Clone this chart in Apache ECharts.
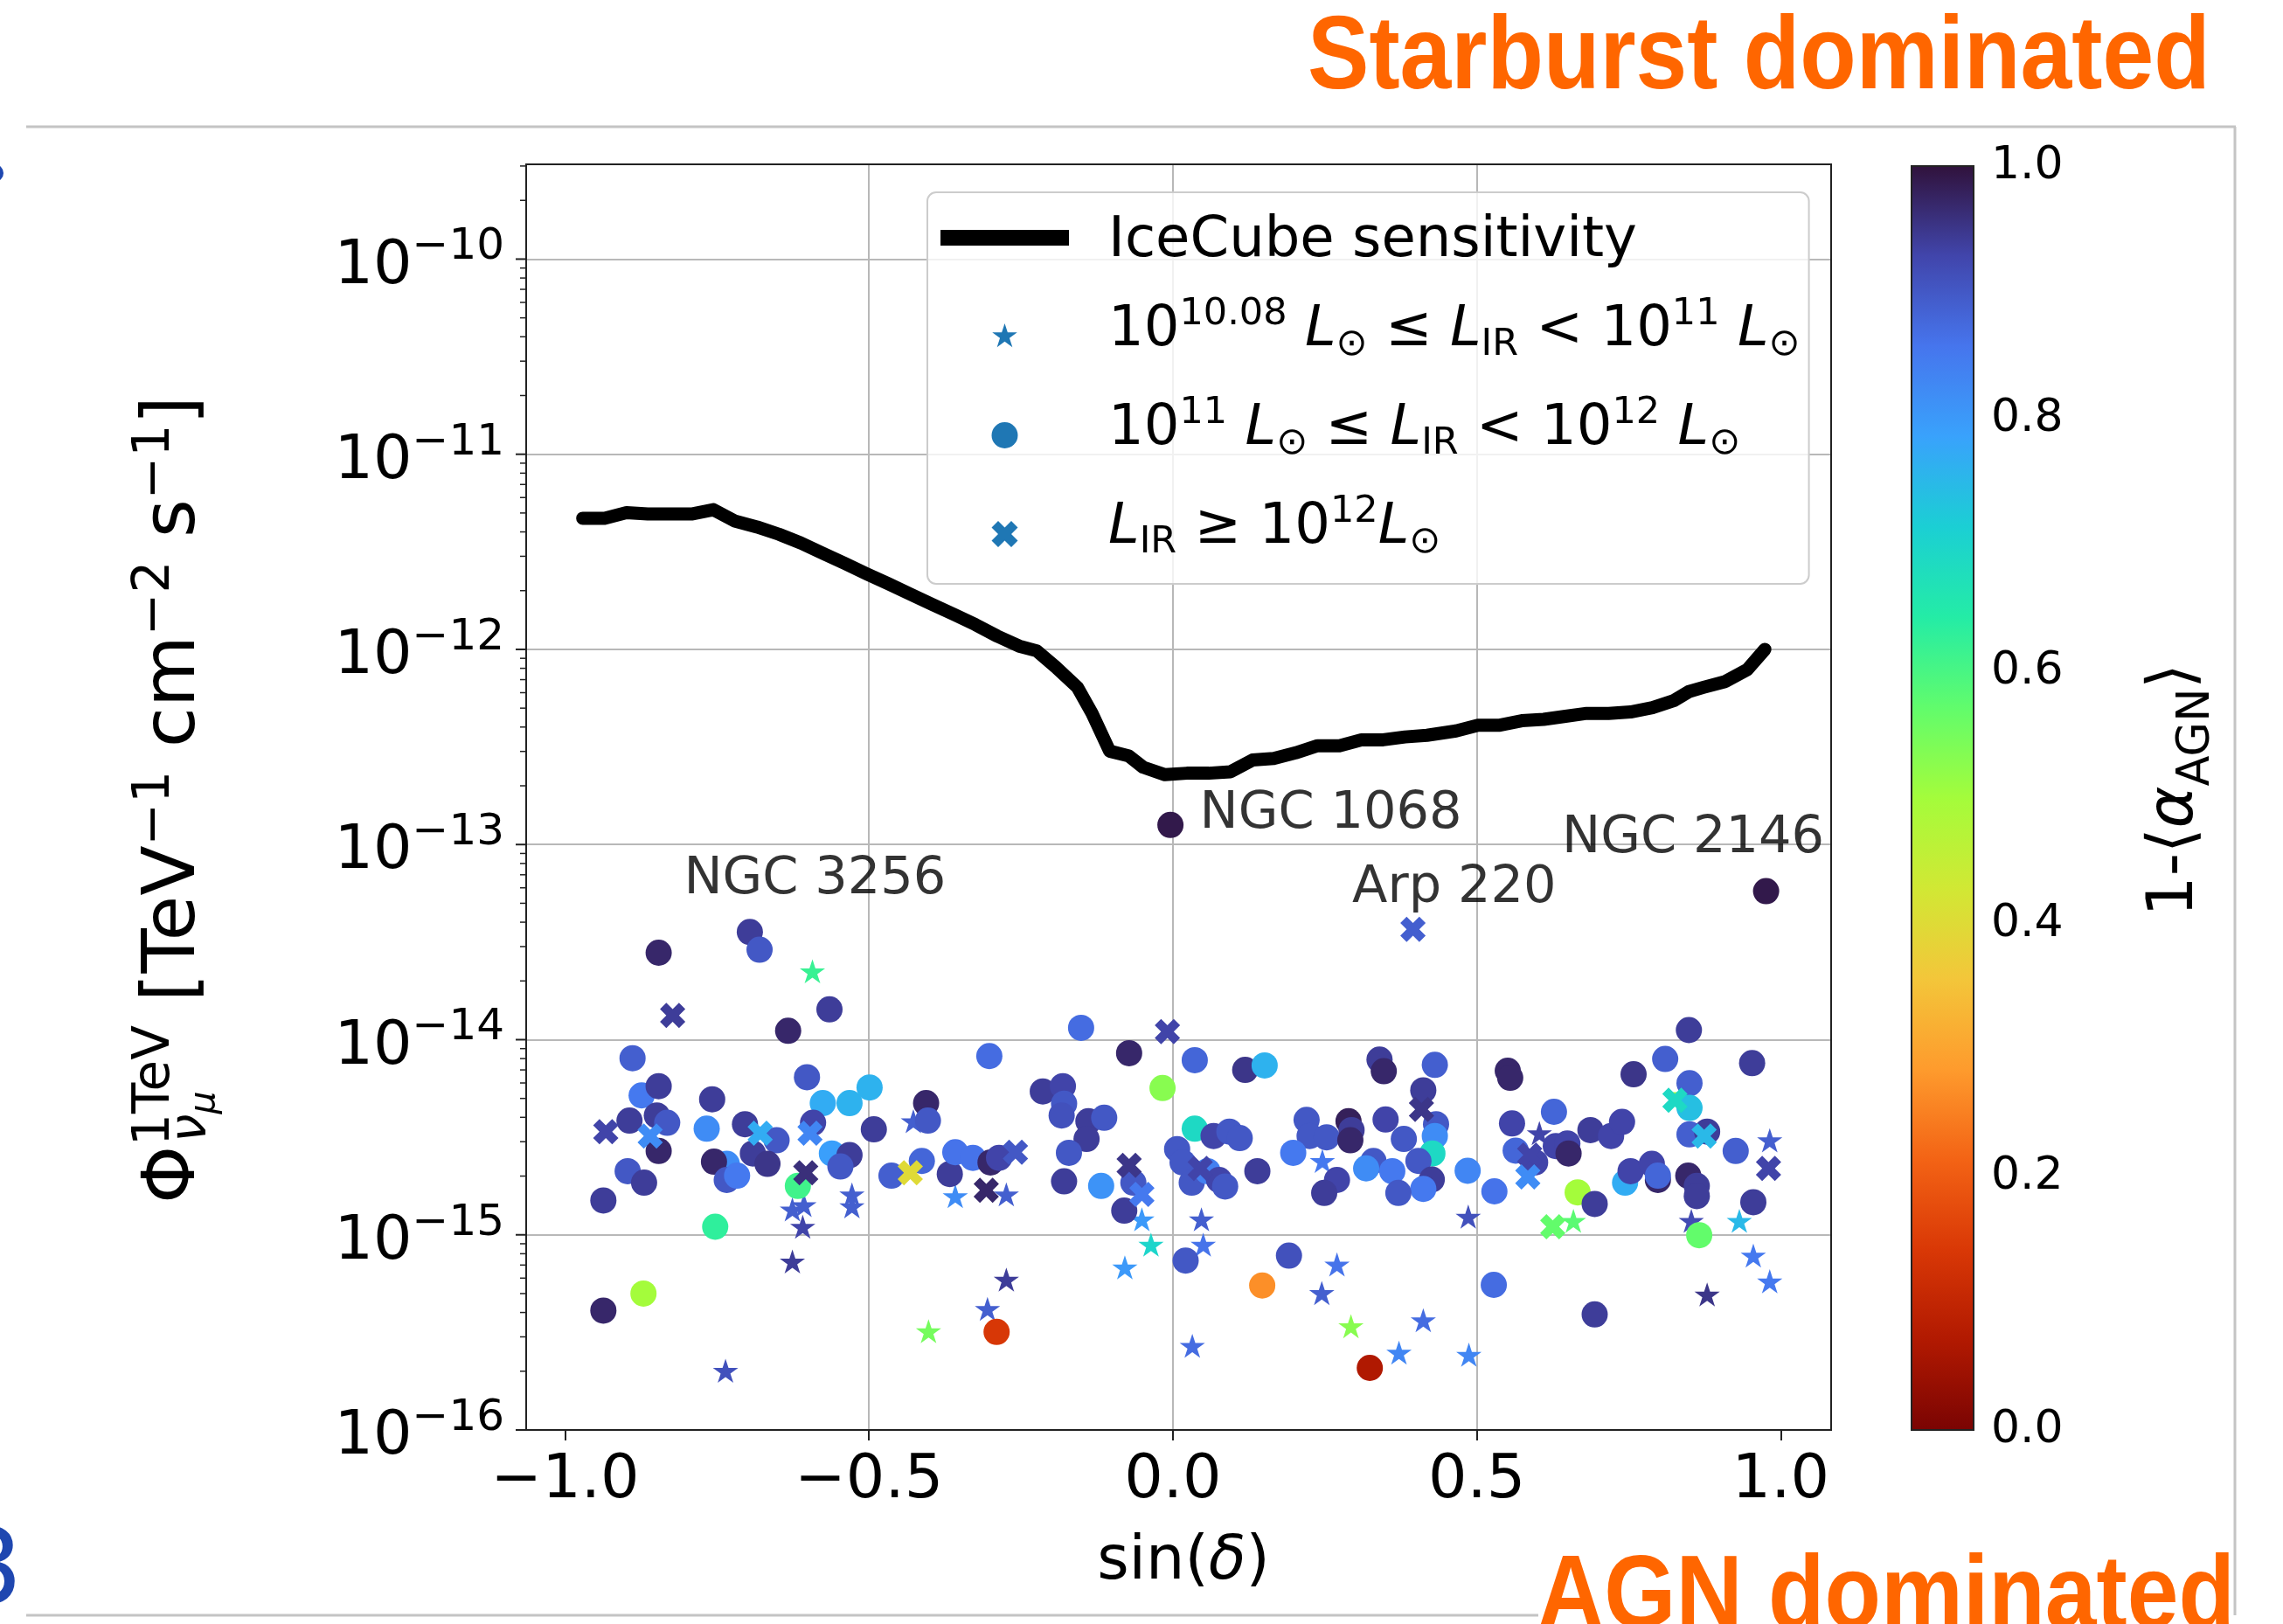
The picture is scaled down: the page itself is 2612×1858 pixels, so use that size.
<!DOCTYPE html>
<html><head><meta charset="utf-8">
<script src="https://cdn.jsdelivr.net/npm/echarts@6/dist/echarts.min.js"></script>
<style>html,body{margin:0;padding:0;background:#fff;}#c{width:2612px;height:1858px;}</style>
</head><body><div id="c"></div>
<script>
const FONT = "'DejaVu Sans', sans-serif";
const SLIDE_FONT = "'Liberation Sans', Arial, sans-serif";

// ---------- axis / tick definitions ----------
const X_MIN = -1.064, X_MAX = 1.083;
const Y_MIN = 1e-16, Y_MAX = 3.06e-10;
const xTickValues = [-1, -0.5, 0, 0.5, 1];
const xTickLabels = ['\u22121.0', '\u22120.5', '0.0', '0.5', '1.0'];
const yDecadeExponents = [-16, -15, -14, -13, -12, -11, -10];
const yMinorMultipliers = [2, 3, 4, 5, 6, 7, 8, 9];
const cbTickLabels = ['0.0', '0.2', '0.4', '0.6', '0.8', '1.0'];

// turbo colormap (value 0 -> dark red, value 1 -> dark purple, i.e. turbo reversed)
const cmapColors = ['#7a0403','#b11901','#d93806','#f36315','#fe9b2d','#f3c63a','#d1e834','#a4fc3b','#61fc6c','#24eca6','#1bcfd4','#39a2fc','#4675ed','#4145ab','#30123b'];

// ---------- IceCube sensitivity ----------
const lineX = [-0.971,-0.935,-0.899,-0.864,-0.828,-0.792,-0.756,-0.720,-0.684,-0.648,-0.612,-0.576,-0.540,-0.504,-0.468,-0.432,-0.396,-0.360,-0.325,-0.289,-0.253,-0.224,-0.193,-0.157,-0.133,-0.104,-0.073,-0.049,-0.013,0.023,0.059,0.095,0.131,0.166,0.202,0.238,0.274,0.310,0.346,0.382,0.418,0.466,0.502,0.538,0.574,0.610,0.646,0.681,0.717,0.753,0.789,0.825,0.849,0.873,0.909,0.945,0.974];
const lineFlux = [4.70e-12,4.70e-12,5.02e-12,4.94e-12,4.94e-12,4.94e-12,5.20e-12,4.54e-12,4.24e-12,3.89e-12,3.51e-12,3.11e-12,2.76e-12,2.44e-12,2.17e-12,1.92e-12,1.70e-12,1.51e-12,1.34e-12,1.17e-12,1.04e-12,9.83e-13,8.13e-13,6.39e-13,4.70e-13,3.01e-13,2.85e-13,2.49e-13,2.28e-13,2.32e-13,2.32e-13,2.36e-13,2.71e-13,2.76e-13,2.95e-13,3.21e-13,3.21e-13,3.44e-13,3.44e-13,3.56e-13,3.63e-13,3.82e-13,4.09e-13,4.09e-13,4.31e-13,4.38e-13,4.54e-13,4.70e-13,4.70e-13,4.78e-13,5.03e-13,5.48e-13,6.08e-13,6.39e-13,6.85e-13,7.87e-13,1.00e-12];

// ---------- 10^10.08 <= L_IR < 10^11 (stars) ----------
const starX = [-0.593,-0.736,-0.528,-0.528,-0.626,-0.607,-0.609,-0.626,-0.427,-0.358,-0.402,-0.051,-0.036,-0.079,-0.274,-0.274,-0.305,0.047,0.050,0.032,0.270,0.245,0.293,0.246,0.486,0.412,0.372,0.487,0.603,0.659,0.838,0.982,0.853,0.932,0.955,0.982,0.879];
const starFlux = [2.24e-14,2.01e-16,1.61e-15,1.40e-15,1.35e-15,1.42e-15,1.10e-15,7.30e-16,3.82e-15,1.58e-15,3.21e-16,1.20e-15,8.91e-16,6.81e-16,1.61e-15,5.89e-16,4.17e-16,1.20e-15,8.91e-16,2.70e-16,7.05e-16,5.03e-16,3.40e-16,2.39e-15,1.24e-15,3.65e-16,2.49e-16,2.43e-16,3.32e-15,1.18e-15,5.21e-15,3.05e-15,1.18e-15,1.18e-15,7.82e-16,5.78e-16,4.95e-16];
const starAGN = [0.62,0.91,0.89,0.89,0.89,0.89,0.93,0.94,0.89,0.82,0.55,0.80,0.70,0.80,0.89,0.94,0.89,0.89,0.86,0.87,0.86,0.89,0.53,0.85,0.91,0.87,0.83,0.83,0.93,0.58,0.50,0.89,0.92,0.75,0.85,0.85,0.95];

// ---------- 10^11 <= L_IR < 10^12 (circles) ----------
const circX = [-0.565,-0.633,-0.889,-0.874,-0.846,-0.894,-0.849,-0.832,-0.846,-0.897,-0.870,-0.937,-0.937,-0.871,-0.758,-0.767,-0.734,-0.755,-0.734,-0.717,-0.753,-0.704,-0.652,-0.691,-0.667,-0.602,-0.576,-0.532,-0.499,-0.592,-0.561,-0.532,-0.547,-0.617,-0.492,-0.406,-0.403,-0.463,-0.413,-0.367,-0.358,-0.329,-0.696,-0.680,-0.846,
 -0.151,-0.302,-0.072,0.036,0.119,0.151,-0.017,-0.214,-0.181,-0.179,-0.183,-0.139,-0.113,-0.142,-0.171,-0.179,-0.118,-0.065,-0.080,-0.300,-0.286,-0.290,0.036,0.007,0.016,0.031,0.057,0.067,0.093,0.110,0.076,0.086,0.139,0.021,0.191,0.147,0.324,0.220,0.225,0.253,0.198,0.289,0.294,0.292,0.270,0.249,0.330,0.318,0.340,0.347,0.350,-0.004,
 0.849,0.810,0.953,0.758,0.551,0.555,0.431,0.412,0.433,0.431,0.380,0.427,0.404,0.361,0.426,0.412,0.371,0.485,0.529,0.528,0.558,0.627,0.564,0.596,0.630,0.649,0.651,0.687,0.721,0.739,0.666,0.694,0.694,0.744,0.753,0.788,0.798,0.798,0.848,0.862,0.862,0.850,0.850,0.850,0.879,0.926,0.955,0.866,0.976];
const circFlux = [1.43e-14,1.11e-14,8.04e-15,5.18e-15,5.78e-15,3.85e-15,4.09e-15,3.75e-15,2.69e-15,2.12e-15,1.85e-15,1.50e-15,4.09e-16,5.00e-16,4.95e-15,3.50e-15,2.31e-15,2.37e-15,1.91e-15,2.01e-15,1.10e-15,3.69e-15,3.05e-15,2.61e-15,2.31e-15,6.42e-15,4.73e-15,4.73e-15,5.69e-15,3.75e-15,2.61e-15,2.56e-15,2.24e-15,1.78e-15,3.47e-15,4.73e-15,3.85e-15,2.01e-15,2.39e-15,2.05e-15,2.65e-15,2.48e-15,3.56e-14,2.89e-14,2.79e-14,
 1.15e-14,8.24e-15,8.53e-15,7.85e-15,7.00e-15,7.38e-15,5.65e-15,5.43e-15,5.78e-15,4.70e-15,4.09e-15,3.82e-15,3.98e-15,3.10e-15,2.63e-15,1.88e-15,1.78e-15,1.85e-15,1.33e-15,2.35e-15,2.48e-15,3.18e-16,3.50e-15,2.75e-15,2.35e-15,1.85e-15,2.12e-15,3.21e-15,3.38e-15,3.13e-15,1.91e-15,1.77e-15,2.12e-15,7.38e-16,7.82e-16,5.50e-16,2.08e-16,3.88e-15,3.21e-15,3.16e-15,2.63e-15,3.82e-15,3.44e-15,3.05e-15,1.91e-15,1.64e-15,2.39e-15,2.19e-15,7.90e-15,6.89e-15,3.90e-15,1.26e-13,
 1.12e-14,7.96e-15,7.58e-15,6.65e-15,6.93e-15,6.38e-15,7.43e-15,5.50e-15,3.69e-15,3.21e-15,3.10e-15,2.61e-15,2.39e-15,2.12e-15,1.92e-15,1.72e-15,1.64e-15,2.13e-15,1.67e-15,5.54e-16,3.72e-15,4.27e-15,2.70e-15,2.35e-15,2.85e-15,2.94e-15,2.61e-15,3.44e-15,3.21e-15,3.79e-15,1.65e-15,1.44e-15,3.91e-16,1.85e-15,2.12e-15,2.31e-15,1.91e-15,2.01e-15,2.01e-15,1.78e-15,1.58e-15,5.98e-15,4.47e-15,3.27e-15,3.38e-15,2.69e-15,1.47e-15,9.96e-16,5.77e-14];
const circAGN = [0.94,0.97,0.89,0.85,0.94,0.94,0.94,0.90,0.97,0.90,0.94,0.94,0.97,0.50,0.94,0.82,0.82,0.97,0.90,0.85,0.63,0.94,0.90,0.94,0.95,0.90,0.77,0.76,0.76,0.93,0.79,0.94,0.90,0.61,0.94,0.97,0.90,0.89,0.88,0.94,0.86,0.86,0.94,0.90,0.97,
 0.87,0.87,0.97,0.88,0.95,0.76,0.53,0.94,0.93,0.90,0.91,0.94,0.90,0.94,0.90,0.94,0.81,0.90,0.94,0.97,0.93,0.14,0.69,0.90,0.90,0.90,0.84,0.93,0.90,0.90,0.93,0.90,0.94,0.90,0.91,0.27,0.07,0.90,0.90,0.90,0.85,0.98,0.94,0.97,0.93,0.94,0.90,0.82,0.94,0.97,0.93,0.99,
 0.94,0.89,0.94,0.95,0.97,0.97,0.89,0.94,0.90,0.82,0.90,0.69,0.90,0.85,0.94,0.85,0.90,0.83,0.86,0.87,0.93,0.88,0.88,0.93,0.93,0.93,0.97,0.94,0.93,0.93,0.50,0.94,0.94,0.77,0.93,0.93,0.97,0.88,0.97,0.94,0.94,0.89,0.74,0.89,0.94,0.89,0.94,0.57,0.99];

// ---------- L_IR >= 10^12 (X markers) ----------
const xmX = [-0.823,-0.933,-0.860,-0.679,-0.597,-0.604,-0.432,-0.009,-0.072,-0.051,-0.307,-0.259,0.045,0.409,0.587,0.584,0.625,0.826,0.874,0.980,0.395];
const xmFlux = [1.33e-14,3.38e-15,3.21e-15,3.32e-15,3.32e-15,2.08e-15,2.08e-15,1.10e-14,2.27e-15,1.61e-15,1.69e-15,2.65e-15,2.19e-15,4.39e-15,2.56e-15,1.98e-15,1.10e-15,4.90e-15,3.21e-15,2.19e-15,3.68e-14];
const xmAGN = [0.94,0.93,0.82,0.77,0.83,0.96,0.40,0.93,0.95,0.85,0.97,0.90,0.93,0.95,0.93,0.82,0.57,0.69,0.75,0.93,0.89];

// ---------- annotated sources ----------
const annoNames = ['NGC 3256', 'NGC 1068', 'Arp 220', 'NGC 2146'];
const annoX = [-0.696, -0.004, 0.395, 0.976];
const annoFlux = [3.56e-14, 1.26e-13, 3.68e-14, 5.77e-14];

// ---------- build ----------
const annoOffsets = [[-75, -59], [34, -12], [-69, -46], [-233, -59]];
const yTickData = [];
yDecadeExponents.forEach(function (e) {
  yTickData.push([X_MIN, Math.pow(10, e), 1]);
  yMinorMultipliers.forEach(function (m) {
    const v = m * Math.pow(10, e);
    if (v < Y_MAX) yTickData.push([X_MIN, v, 0]);
  });
});
const cbStops = cmapColors.map(function (c, i) { return { offset: i / (cmapColors.length - 1), color: c }; });

const STAR = 'path://M0,-1 L0.2245,-0.309 L0.951,-0.309 L0.363,0.118 L0.588,0.809 L0,0.382 L-0.588,0.809 L-0.363,0.118 L-0.951,-0.309 L-0.2245,-0.309 Z';
const XMARK = 'path://M1.414,-2.828 L0,-1.414 L-1.414,-2.828 L-2.828,-1.414 L-1.414,0 L-2.828,1.414 L-1.414,2.828 L0,1.414 L1.414,2.828 L2.828,1.414 L1.414,0 L2.828,-1.414 Z';
const LEG_LINE = 'path://M0,6 L147,6 L147,24 L0,24 Z M0,0 M187,30';
const LEG_STAR = 'path://M73.5,0 L76.87,10.36 L87.77,10.36 L78.95,16.77 L82.32,27.14 L73.5,20.73 L64.68,27.14 L68.05,16.77 L59.23,10.36 L70.13,10.36 Z M0,0 M187,30';
const LEG_CIRC = 'path://M58.5,15 A15,15 0 1,1 88.5,15 A15,15 0 1,1 58.5,15 Z M0,0 M187,30';
const LEG_X = 'path://M81,0 L73.5,7.5 L66,0 L58.5,7.5 L66,15 L58.5,22.5 L66,30 L73.5,22.5 L81,30 L88.5,22.5 L81,15 L88.5,7.5 Z M0,0 M187,30';

const legendLabels = {
  'IceCube sensitivity': '{h|\u200b}{n1|IceCube sensitivity}',
  'lowLIR': '{h|\u200b}{n|10}{sup|10.08}{n| }{it|L}{sub|\u2299}{n| \u2264 }{it|L}{sub|IR}{n| < 10}{sup|11}{n| }{it|L}{sub|\u2299}',
  'midLIR': '{h|\u200b}{n|10}{sup|11}{n| }{it|L}{sub|\u2299}{n| \u2264 }{it|L}{sub|IR}{n| < 10}{sup|12}{n| }{it|L}{sub|\u2299}',
  'highLIR': '{h|\u200b}{it|L}{sub|IR}{n| \u2265 10}{sup|12}{it|L}{sub|\u2299}'
};

function pts(xs, ys, cs) { return xs.map(function (x, i) { return [x, ys[i], cs[i]]; }); }
// rich token placed with its baseline at `base` px below the line top
function tok(size, base, extra) {
  const o = { fontSize: size, lineHeight: 100, verticalAlign: 'top', padding: [Math.max(0, base - 0.79 * size), 0, 0, 0], fontFamily: FONT, color: '#000' };
  return Object.assign(o, extra || {});
}

const chart = echarts.init(document.getElementById('c'), null, { renderer: 'canvas', width: 2612, height: 1858 });

const option = {
  animation: false,
  backgroundColor: '#ffffff',
  textStyle: { fontFamily: FONT },
  grid: [
    { left: 602, top: 188, width: 1493, height: 1448, show: false, outerBoundsMode: 'none' },
    { left: 2187, top: 190, width: 71, height: 1446, show: false, outerBoundsMode: 'none' }
  ],
  xAxis: [
    {
      type: 'value', gridIndex: 0, min: X_MIN, max: X_MAX,
      axisLine: { show: false },
      axisTick: { show: true, customValues: xTickValues, length: 12, inside: false, lineStyle: { color: '#222', width: 2 } },
      axisLabel: {
        show: true, customValues: xTickValues, margin: 24, fontSize: 70, lineHeight: 70, color: '#000', fontFamily: FONT,
        formatter: function (v) { const i = xTickValues.findIndex(function (t) { return Math.abs(t - v) < 1e-9; }); return i >= 0 ? xTickLabels[i] : ''; }
      },
      splitLine: { show: true, showMinLine: false, showMaxLine: false, lineStyle: { color: '#b8b8b8', width: 2 } }
    },
    { type: 'value', gridIndex: 1, min: 0, max: 1, show: false }
  ],
  yAxis: [
    {
      type: 'log', logBase: 10, gridIndex: 0, min: Y_MIN, max: Y_MAX,
      axisLine: { show: false },
      axisTick: { show: false },
      axisLabel: {
        show: true, margin: 25, showMaxLabel: false, color: '#000',
        formatter: function (v) { const e = Math.round(Math.log10(v)); return '{b|10}{s|\u2212' + Math.abs(e) + '}'; },
        rich: {
          b: { fontSize: 70, lineHeight: 90, verticalAlign: 'top', padding: [19, 0, 0, 0], fontFamily: FONT, color: '#000' },
          s: { fontSize: 50, lineHeight: 90, verticalAlign: 'top', padding: [7, 0, 0, 0], fontFamily: FONT, color: '#000' }
        }
      },
      splitLine: { show: true, showMaxLine: false, lineStyle: { color: '#b8b8b8', width: 2 } }
    },
    {
      type: 'value', gridIndex: 1, min: 0, max: 1, interval: 0.2, position: 'right',
      axisLine: { show: false },
      axisTick: { show: true, length: 14, inside: false, lineStyle: { color: '#222', width: 2 } },
      axisLabel: { show: true, margin: 20, fontSize: 52, color: '#000', fontFamily: FONT,
        formatter: function (v) { return cbTickLabels[Math.round(v * 5)]; } },
      splitLine: { show: false }
    }
  ],
  visualMap: {
    type: 'continuous', show: false, min: 0, max: 1, dimension: 2, seriesIndex: [1, 2, 3],
    inRange: { color: cmapColors }
  },
  legend: {
    show: true, orient: 'vertical', left: 1061, top: 220,
    padding: [2, 10, 7, 15], itemGap: 13, itemWidth: 187, itemHeight: 30,
    backgroundColor: 'rgba(255,255,255,0.8)', borderColor: '#cccccc', borderWidth: 2, borderRadius: 10,
    selectedMode: false, z: 10,
    data: [
      { name: 'IceCube sensitivity', icon: LEG_LINE, itemStyle: { color: '#000' } },
      { name: 'lowLIR', icon: LEG_STAR, itemStyle: { color: '#1f77b4' } },
      { name: 'midLIR', icon: LEG_CIRC, itemStyle: { color: '#1f77b4' } },
      { name: 'highLIR', icon: LEG_X, itemStyle: { color: '#1f77b4' } }
    ],
    formatter: function (name) { return legendLabels[name]; },
    textStyle: {
      color: '#000', fontFamily: FONT, fontSize: 64, lineHeight: 100,
      rich: {
        h: { fontSize: 64, lineHeight: 100, fontFamily: FONT },
        n1: tok(64, 72.5),
        n: tok(64, 62),
        it: tok(64, 62, { fontStyle: 'italic' }),
        sup: tok(43, 37),
        sub: tok(43, 72)
      }
    }
  },
  series: [
    {
      name: 'IceCube sensitivity', type: 'line', xAxisIndex: 0, yAxisIndex: 0,
      data: lineX.map(function (x, i) { return [x, lineFlux[i]]; }),
      symbol: 'none', silent: true, z: 3,
      lineStyle: { color: '#000', width: 15, cap: 'round', join: 'round' }
    },
    {
      name: 'lowLIR', type: 'scatter', xAxisIndex: 0, yAxisIndex: 0,
      data: pts(starX, starFlux, starAGN), symbol: STAR, symbolSize: 29, symbolKeepAspect: true, silent: true, z: 4,
      itemStyle: { opacity: 1 }
    },
    {
      name: 'midLIR', type: 'scatter', xAxisIndex: 0, yAxisIndex: 0,
      data: pts(circX, circFlux, circAGN), symbol: 'circle', symbolSize: 30, silent: true, z: 4,
      itemStyle: { opacity: 1 }
    },
    {
      name: 'highLIR', type: 'scatter', xAxisIndex: 0, yAxisIndex: 0,
      data: pts(xmX, xmFlux, xmAGN), symbol: XMARK, symbolSize: 29, silent: true, z: 4,
      itemStyle: { opacity: 1 }
    },
    {
      name: 'annotations', type: 'scatter', xAxisIndex: 0, yAxisIndex: 0, silent: true, z: 5,
      symbolSize: 1, itemStyle: { color: 'rgba(0,0,0,0)' },
      data: annoNames.map(function (n, i) {
        return { name: n, value: [annoX[i], annoFlux[i]], label: { position: annoOffsets[i] } };
      }),
      label: { show: true, formatter: '{b}', fontSize: 59, fontFamily: FONT, color: '#000', align: 'left', verticalAlign: 'middle' }
    },
    {
      name: 'yTicks', type: 'custom', xAxisIndex: 0, yAxisIndex: 0, silent: true, z: 6,
      data: yTickData, encode: { x: 0, y: 1 },
      renderItem: function (params, api) {
        const y = api.coord([X_MIN, api.value(1)])[1];
        const major = api.value(2) === 1;
        const x0 = params.coordSys.x;
        const len = major ? 12 : 7;
        return { type: 'line', shape: { x1: x0 - len, y1: y, x2: x0, y2: y }, style: { stroke: '#222', lineWidth: major ? 2 : 1.5 } };
      }
    },
    {
      name: 'frame', type: 'custom', xAxisIndex: 0, yAxisIndex: 0, silent: true, z: 7,
      data: [[X_MIN, Y_MIN]],
      renderItem: function (params, api) {
        const cs = params.coordSys;
        return { type: 'rect', shape: { x: cs.x, y: cs.y, width: cs.width, height: cs.height }, style: { fill: 'none', stroke: '#222', lineWidth: 2 } };
      }
    },
    {
      name: 'colorbar', type: 'custom', xAxisIndex: 1, yAxisIndex: 1, silent: true, z: 2,
      data: [[0, 0]],
      renderItem: function (params, api) {
        const p0 = api.coord([0, 0]), p1 = api.coord([1, 1]);
        return { type: 'rect', shape: { x: p0[0], y: p1[1], width: p1[0] - p0[0], height: p0[1] - p1[1] },
          style: { fill: new echarts.graphic.LinearGradient(0, 1, 0, 0, cbStops), stroke: '#222', lineWidth: 2 } };
      }
    }
  ],
  graphic: [
    { type: 'line', shape: { x1: 30, y1: 145, x2: 2558, y2: 145 }, style: { stroke: '#c4c4c4', lineWidth: 3 }, silent: true },
    { type: 'line', shape: { x1: 2557, y1: 145, x2: 2557, y2: 1848 }, style: { stroke: '#c4c4c4', lineWidth: 3 }, silent: true },
    { type: 'line', shape: { x1: 30, y1: 1848, x2: 1760, y2: 1848 }, style: { stroke: '#c4c4c4', lineWidth: 3 }, silent: true },
    { type: 'text', x: 1496, y: 68, scaleX: 0.895, silent: true,
      style: { text: 'Starburst dominated', fontSize: 118, fontWeight: 'bold', fontFamily: SLIDE_FONT, fill: '#ff6600', align: 'left', verticalAlign: 'middle' } },
    { type: 'text', x: 1759, y: 1829, scaleX: 0.895, silent: true,
      style: { text: 'AGN dominated', fontSize: 118, fontWeight: 'bold', fontFamily: SLIDE_FONT, fill: '#ff6600', align: 'left', verticalAlign: 'middle' } },
    { type: 'text', x: -50, y: 1803, silent: true,
      style: { text: '3', fontSize: 120, fontFamily: FONT, fill: '#1f47b0', align: 'left', verticalAlign: 'middle' } },
    { type: 'circle', shape: { cx: -6, cy: 198, r: 10 }, style: { fill: '#1f47b0' }, silent: true },
    { type: 'text', x: 1354, y: 1788, silent: true,
      style: { text: '{r|sin(}{i|\u03b4}{r|)}', align: 'center', verticalAlign: 'middle',
        rich: { r: { fontSize: 70, fontFamily: FONT, color: '#000' }, i: { fontSize: 70, fontStyle: 'italic', fontFamily: FONT, color: '#000' } } } },
    { type: 'text', x: 195.6, y: 1377, rotation: Math.PI / 2, silent: true,
      style: { text: '{m|\u03a6}{p|1TeV}{m| [TeV}{p|\u22121}{m| cm}{p|\u22122}{m| s}{p|\u22121}{m|]}', align: 'left', verticalAlign: 'middle',
        rich: {
          m: { fontSize: 84, lineHeight: 110, verticalAlign: 'top', padding: [18, 0, 0, 0], fontFamily: FONT, color: '#000' },
          p: { fontSize: 58, lineHeight: 110, verticalAlign: 'top', padding: [8, 0, 0, 0], fontFamily: FONT, color: '#000' } } } },
    { type: 'text', x: 219.7, y: 1307, rotation: Math.PI / 2, silent: true,
      style: { text: '{v|\u03bd}{u|\u03bc}', align: 'left', verticalAlign: 'middle',
        rich: { v: { fontSize: 58, lineHeight: 70, fontStyle: 'italic', fontFamily: FONT, color: '#000' }, u: { fontSize: 41, lineHeight: 28, verticalAlign: 'bottom', fontStyle: 'italic', fontFamily: FONT, color: '#000' } } } },
    { type: 'text', x: 2489.5, y: 904, rotation: Math.PI / 2, silent: true,
      style: { text: '{a|1-\u27e8}{g|\u03b1}{s|AGN}{a|\u27e9}', align: 'center', verticalAlign: 'middle',
        rich: { a: { fontSize: 73, lineHeight: 100, fontFamily: FONT, color: '#000' }, g: { fontSize: 73, lineHeight: 100, fontStyle: 'italic', fontFamily: FONT, color: '#000' }, s: { fontSize: 51, lineHeight: 65, verticalAlign: 'bottom', fontFamily: FONT, color: '#000' } } } }
  ]
};
chart.setOption(option);
</script></body></html>
